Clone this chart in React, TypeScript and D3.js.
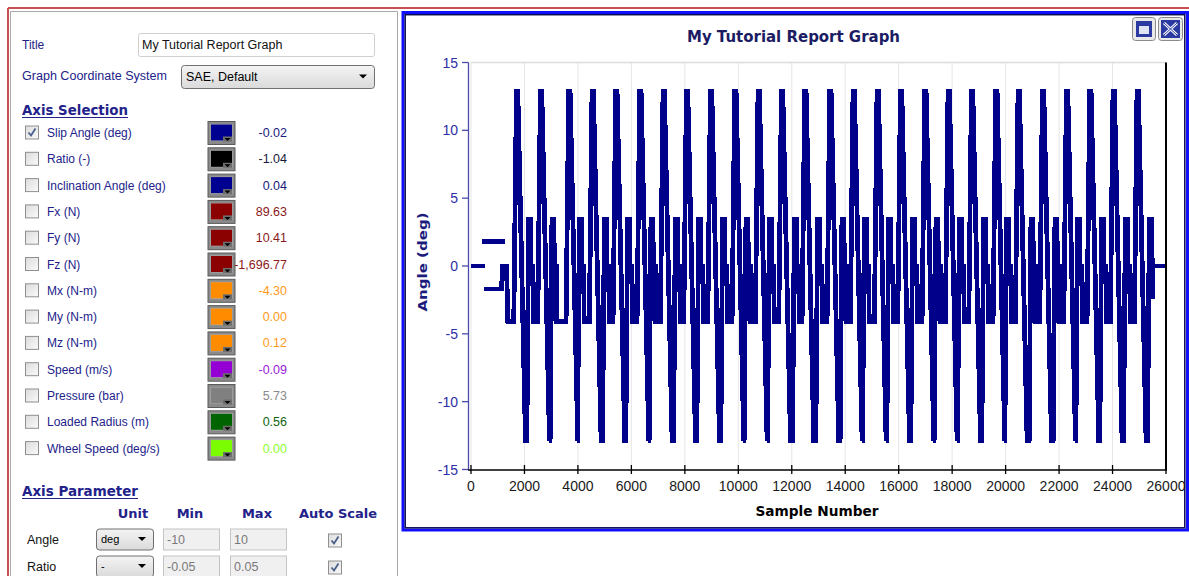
import React from 'react';
import * as d3 from 'd3';

const W = 1189;
const H = 576;

const chartTitle = 'My Tutorial Report Graph';
const xLabel = 'Sample Number';
const yLabel = 'Angle (deg)';
const xTicks = [0, 2000, 4000, 6000, 8000, 10000, 12000, 14000, 16000, 18000, 20000, 22000, 24000, 26000];
const yTicks = [-15, -10, -5, 0, 5, 10, 15];

// Slip angle sweeps: peak / trough sample positions
const peakSamples = [1710, 2607, 3666, 4538, 5424, 6322, 7194, 8069, 8967, 9876, 10748, 11623, 12495, 13430, 14302, 15200, 16075, 16984, 17856, 18731, 19640, 20475, 21387, 22285, 23157, 24028, 24926];
const troughSamples = [2058, 2929, 3954, 4890, 5761, 6633, 7546, 8417, 9315, 10187, 11062, 11997, 12869, 13778, 14616, 15525, 16423, 17295, 18170, 19079, 19940, 20849, 21747, 22596, 23493, 24380, 25278];
// shape of one sweep read from the first cycles: [sample offset, angle]
const riseToPeak: [number, number][] = [[-110, -4.1], [-10, 12.9]];
const fallFromPeak: [number, number][] = [[40, 12.9], [330, -12.9]];
const riseFromTrough: [number, number][] = [[30, -12.9], [100, 3.4], [170, 3.4], [190, 0], [260, 0], [280, -4.1]];
// leading section runs
const leadZero: [number, number][] = [[0, 0], [520, 0]];
const leadHigh: [number, number][] = [[400, 1.8], [1270, 1.8]];
const leadLow: [number, number][] = [[480, -1.7], [1150, -1.7], [1170, 0], [1330, 0], [1380, -4.1]];
const tailRun: [number, number][] = [[30, -12.9], [100, 3.4], [190, 3.4], [215, -2.4], [235, 0]];
const tailEnd: [number, number][] = [[26000, 0]];

const channelLabels = ['Slip Angle (deg)', 'Ratio (-)', 'Inclination Angle (deg)', 'Fx (N)', 'Fy (N)', 'Fz (N)', 'Mx (N-m)', 'My (N-m)', 'Mz (N-m)', 'Speed (m/s)', 'Pressure (bar)', 'Loaded Radius (m)', 'Wheel Speed (deg/s)'];
const channelValues = ['-0.02', '-1.04', '0.04', '89.63', '10.41', '-1,696.77', '-4.30', '0.00', '0.12', '-0.09', '5.73', '0.56', '0.00'];
const channelColors = ['#000090', '#000000', '#000090', '#8b0000', '#8b0000', '#8b0000', '#ff8c00', '#ff8c00', '#ff8c00', '#9400d3', '#808080', '#006400', '#7cfc00'];
const channelValueColors = ['#1a1a80', '#1a1a40', '#1a1a80', '#8b1a1a', '#8b1a1a', '#8b1a1a', '#ff9a20', '#ff9a20', '#ff9a20', '#9a20d8', '#8a8a8a', '#106410', '#90ff30'];
const channelChecked = [true, false, false, false, false, false, false, false, false, false, false, false, false];

const paramHeaders = ['Unit', 'Min', 'Max', 'Auto Scale'];
const paramNames = ['Angle', 'Ratio'];
const paramUnits = ['deg', '-'];
const paramMins = ['-10', '-0.05'];
const paramMaxs = ['10', '0.05'];

const NAVY = '#22228a';

type Pt = [number, number];

function buildSweep(): (Pt | null)[] {
  const pts: (Pt | null)[] = [];
  leadZero.forEach(p => pts.push(p));
  pts.push(null);
  leadHigh.forEach(p => pts.push(p));
  pts.push(null);
  leadLow.forEach(p => pts.push(p));
  peakSamples.forEach((p, i) => {
    const t = troughSamples[i];
    riseToPeak.forEach(([o, v]) => pts.push([p + o, v]));
    fallFromPeak.forEach(([o, v]) => pts.push([p + o, v]));
    pts.push([t, -12.9]);
    const after = i < peakSamples.length - 1 ? riseFromTrough : tailRun;
    after.forEach(([o, v]) => pts.push([t + o, v]));
  });
  tailEnd.forEach(p => pts.push(p));
  return pts;
}

export default function App() {
  const x = d3.scaleLinear().domain([0, 26000]).range([471, 1166]);
  const y = d3.scaleLinear().domain([-15, 15]).range([469.5, 62.5]);
  const data = buildSweep();
  const line = d3.line<Pt | null>()
    .defined(d => d !== null)
    .x(d => x((d as Pt)[0]))
    .y(d => y((d as Pt)[1]));
  const rowY = (i: number) => 132.5 + i * 26.3;

  const checkbox = (cx: number, cy: number, checked: boolean, key: string) => (
    <g key={key}>
      <rect x={cx + 0.5} y={cy + 0.5} width={13} height={13} fill="url(#cbGrad)" stroke="#8f8f8f" />
      {checked && <path d={`M${cx + 3.5},${cy + 7} L${cx + 6},${cy + 10} L${cx + 10.5},${cy + 3}`} fill="none" stroke="#4a5f8a" strokeWidth={1.8} />}
    </g>
  );
  const combo = (x0: number, y0: number, w: number, h: number, text: string, fs: number, key: string) => (
    <g key={key}>
      <rect x={x0 + 0.5} y={y0 + 0.5} width={w} height={h} rx={3} fill="url(#comboGrad)" stroke="#707070" />
      <text x={x0 + 5} y={y0 + h / 2 + fs * 0.36} fontSize={fs} fontFamily="Liberation Sans, Arial, sans-serif" fill="#000">{text}</text>
      <path d={`M${x0 + w - 15},${y0 + h / 2 - 2} l8,0 l-4,4 z`} fill="#000" />
    </g>
  );

  return (
    <svg width={W} height={H} style={{ position: 'absolute', left: 0, top: 0, background: '#fff' }} fontFamily="Liberation Sans, Arial, sans-serif">
      <defs>
        <linearGradient id="cbGrad" x1="0" y1="0" x2="1" y2="1">
          <stop offset="0" stopColor="#dcdcdc" />
          <stop offset="1" stopColor="#fafafa" />
        </linearGradient>
        <linearGradient id="comboGrad" x1="0" y1="0" x2="0" y2="1">
          <stop offset="0" stopColor="#f4f4f4" />
          <stop offset="1" stopColor="#dadada" />
        </linearGradient>
        <clipPath id="plotClip"><rect x={469} y={60} width={697} height={412} /></clipPath>
      </defs>
      <rect x={0} y={0} width={W} height={H} fill="#fff" />

      {/* window borders */}
      <line x1={8} y1={8} x2={W} y2={8} stroke="#c85050" strokeWidth={2} />
      <line x1={8} y1={8} x2={8} y2={H} stroke="#c85050" strokeWidth={2} />
      <path d={`M10.5,${H} V11.5 H397.5 V${H}`} fill="none" stroke="#a8a8a8" />

      {/* ---------- left panel ---------- */}
      <text x={22} y={49} fontSize={12} fill={NAVY}>Title</text>
      <rect x={138.5} y={33.5} width={236} height={23} rx={2} fill="#fff" stroke="#cfcfcf" />
      <text x={142} y={49} fontSize={12.5} fill="#111">{chartTitle}</text>
      <text x={22} y={80} fontSize={12} fill={NAVY} textLength={145} lengthAdjust="spacingAndGlyphs">Graph Coordinate System</text>
      {combo(181, 65, 193, 23, 'SAE, Default', 12.5, 'cs')}

      <text x={22} y={115} fontSize={14} fontWeight="bold" fill={NAVY} fontFamily="DejaVu Sans, Verdana, sans-serif" textLength={106} lengthAdjust="spacingAndGlyphs">Axis Selection</text>
      <line x1={22} y1={117.5} x2={128} y2={117.5} stroke={NAVY} strokeWidth={1.2} />

      {channelLabels.map((lab, i) => {
        const cy = rowY(i);
        return (
          <g key={lab}>
            {checkbox(25, cy - 7, channelChecked[i], 'cb' + i)}
            <text x={47} y={cy + 4.5} fontSize={12} fill={NAVY}>{lab}</text>
            <rect x={208} y={cy - 11} width={27} height={23} fill="#8a8a8a" stroke="#5a5a5a" />
            <rect x={210.5} y={cy - 8.5} width={22} height={17} fill="#b0b0b0" />
            <rect x={211} y={cy - 8} width={21} height={16} fill={channelColors[i]} />
            <rect x={223} y={cy + 4} width={9} height={5} fill="#6e6e6e" />
            <path d={`M${224.5},${cy + 5.5} l6,0 l-3,3 z`} fill="#000" />
            <text x={287} y={cy + 4.5} fontSize={12.5} fill={channelValueColors[i]} textAnchor="end">{channelValues[i]}</text>
          </g>
        );
      })}

      <text x={22} y={496} fontSize={14} fontWeight="bold" fill={NAVY} fontFamily="DejaVu Sans, Verdana, sans-serif" textLength={116} lengthAdjust="spacingAndGlyphs">Axis Parameter</text>
      <line x1={22} y1={498.5} x2={138} y2={498.5} stroke={NAVY} strokeWidth={1.2} />
      {paramHeaders.map((h, i) => (
        <text key={h} x={[133, 190, 257, 338][i]} y={518} fontSize={13} fontWeight="bold" fill={NAVY} textAnchor="middle" fontFamily="DejaVu Sans, Verdana, sans-serif">{h}</text>
      ))}
      {paramNames.map((n, i) => {
        const cy = 539.5 + i * 27;
        return (
          <g key={n}>
            <text x={27} y={cy + 4.5} fontSize={12.5} fill="#111">{n}</text>
            {combo(96, cy - 11, 57, 21, paramUnits[i], 11, 'pc' + i)}
            <rect x={163.5} y={cy - 10.5} width={56} height={21} fill="#f0f0f0" stroke="#c4c4c4" />
            <text x={167} y={cy + 4.5} fontSize={12.5} fill="#7a7a7a">{paramMins[i]}</text>
            <rect x={230.5} y={cy - 10.5} width={56} height={21} fill="#f0f0f0" stroke="#c4c4c4" />
            <text x={234} y={cy + 4.5} fontSize={12.5} fill="#7a7a7a">{paramMaxs[i]}</text>
            {checkbox(328, cy - 6, true, 'pcb' + i)}
          </g>
        );
      })}

      {/* ---------- chart panel ---------- */}
      <rect x={403} y={12.5} width={784.5} height={517.5} fill="#fff" stroke="#1010ff" strokeWidth={3} />
      <rect x={405.2} y={14.7} width={779.6} height={513.1} fill="none" stroke="#0a0a50" strokeWidth={1.5} />

      {/* window buttons */}
      <g>
        <rect x={1132.5} y={17.5} width={23} height={23} rx={3} fill="#e8e8e8" stroke="#8a8a8a" />
        <rect x={1136} y={21} width={16} height={16} fill="#2a3aa0" />
        <rect x={1139} y={26} width={10} height={8} fill="#dfe4f5" />
        <rect x={1158.5} y={17.5} width={24} height={23} rx={3} fill="#e8e8e8" stroke="#8a8a8a" />
        <rect x={1161} y={20} width={19} height={18} fill="#2a3aa0" />
        <path d="M1164,23 L1177,35 M1177,23 L1164,35" stroke="#fff" strokeWidth={3} />
        <path d="M1164,23 L1177,35 M1177,23 L1164,35" stroke="#2a3aa0" strokeWidth={1} />
      </g>

      <text x={793.5} y={42} fontSize={15} fontWeight="bold" fill="#1c1c64" textAnchor="middle" fontFamily="DejaVu Sans, Verdana, sans-serif" textLength={213} lengthAdjust="spacingAndGlyphs">{chartTitle}</text>

      {/* grid */}
      {xTicks.map(t => (
        <line key={'g' + t} x1={x(t)} x2={x(t)} y1={y(15)} y2={y(-15)} stroke="#e6e6e6" strokeWidth={1} />
      ))}
      <line x1={x(0)} x2={x(26000)} y1={y(15)} y2={y(15)} stroke="#dcdcdc" strokeWidth={1.5} />

      {/* data */}
      <path d={line(data) || ''} fill="none" stroke="#00008b" strokeWidth={4.8} strokeLinejoin="miter" strokeMiterlimit={2} shapeRendering="crispEdges" clipPath="url(#plotClip)" />

      {/* axes */}
      <line x1={x(26000)} x2={x(26000)} y1={y(15)} y2={y(-15) + 1} stroke="#000" strokeWidth={2} />
      <line x1={468.5} x2={468.5} y1={y(15)} y2={y(-15)} stroke="#4a4aa8" strokeWidth={1.3} />
      {yTicks.map(t => (
        <g key={'y' + t}>
          <line x1={462} x2={468.5} y1={y(t)} y2={y(t)} stroke="#4a4aa8" strokeWidth={1.3} />
          <text x={458} y={y(t) + 5} fontSize={14} fill="#2e2ea8" textAnchor="end">{t}</text>
        </g>
      ))}
      <line x1={468} x2={x(26000) + 1} y1={470} y2={470} stroke="#000" strokeWidth={1.5} />
      {xTicks.map(t => (
        <g key={'x' + t}>
          <line x1={x(t)} x2={x(t)} y1={465} y2={474} stroke="#000" strokeWidth={1.3} />
          <text x={x(t)} y={490.5} fontSize={14} fill="#1a1a1a" textAnchor="middle">{t}</text>
        </g>
      ))}
      <text x={817} y={516} fontSize={13.5} fontWeight="bold" fill="#000" textAnchor="middle" fontFamily="DejaVu Sans, Verdana, sans-serif" textLength={123} lengthAdjust="spacingAndGlyphs">{xLabel}</text>
      <text transform="translate(427,262) rotate(-90)" fontSize={13} fontWeight="bold" fill="#1c1c7c" textAnchor="middle" fontFamily="DejaVu Sans, Verdana, sans-serif" textLength={99} lengthAdjust="spacingAndGlyphs">{yLabel}</text>
    </svg>
  );
}
